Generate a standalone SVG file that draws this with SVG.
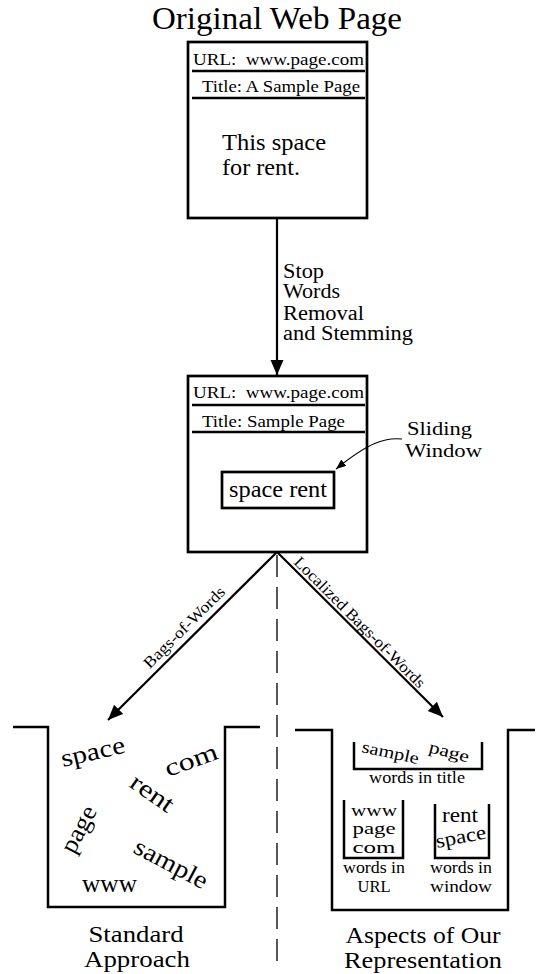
<svg xmlns="http://www.w3.org/2000/svg" width="537" height="974" viewBox="0 0 537 974">
<style>
text{font-family:"Liberation Serif","Times New Roman",serif;fill:#000;white-space:pre}
.box{fill:#fff;stroke:#000;stroke-width:2.7}
.ln{fill:none;stroke:#000;stroke-width:2.7}
.arr{fill:none;stroke:#000;stroke-width:2.2}
.thin{fill:none;stroke:#000;stroke-width:1.1}
.bk{fill:none;stroke:#000;stroke-width:2.5}
.dash{fill:none;stroke:#000;stroke-width:1.3;stroke-dasharray:22 10}
.s15{font-size:17px}
.s21{font-size:23px}
.s19{font-size:20px}
.s18{font-size:19px}
.s23{font-size:25px}
.s26{font-size:24px}
.s16{font-size:16px}
.s17{font-size:17px}
</style>
<defs>
<marker id="ah" markerUnits="userSpaceOnUse" markerWidth="16" markerHeight="14" refX="15" refY="6.5" orient="auto">
<path d="M0,0 L15,6.5 L0,13 Z" fill="#000"/>
</marker>
<marker id="ahs" markerUnits="userSpaceOnUse" markerWidth="11" markerHeight="9" refX="10" refY="4" orient="auto">
<path d="M0,0 L10,4 L0,8 Z" fill="#000"/>
</marker>
</defs>

<text x="152" y="29" font-size="31" textLength="250" lengthAdjust="spacingAndGlyphs">Original Web Page</text>

<g id="original-page">
<rect class="box" x="188" y="42" width="179" height="176"/>
<line class="ln" x1="192" y1="71" x2="365" y2="71"/>
<line class="ln" x1="192" y1="98" x2="365" y2="98"/>
<text class="s15" x="193" y="65" textLength="171" lengthAdjust="spacingAndGlyphs">URL:  www.page.com</text>
<text class="s15" x="202" y="92" textLength="158" lengthAdjust="spacingAndGlyphs">Title: A Sample Page</text>
<text class="s21" x="222" y="150" textLength="104" lengthAdjust="spacingAndGlyphs">This space</text>
<text class="s21" x="222" y="175" textLength="78" lengthAdjust="spacingAndGlyphs">for rent.</text>
</g>

<g id="processed-page">
<rect class="box" x="188" y="376" width="179" height="176"/>
<line class="ln" x1="192" y1="405" x2="365" y2="405"/>
<line class="ln" x1="192" y1="432" x2="365" y2="432"/>
<text class="s15" x="193" y="398" textLength="171" lengthAdjust="spacingAndGlyphs">URL:  www.page.com</text>
<text class="s15" x="202" y="427" textLength="143" lengthAdjust="spacingAndGlyphs">Title: Sample Page</text>
</g>

<g id="sliding-window">
<rect class="box" x="222" y="472" width="112" height="36"/>
<text class="s21" x="229" y="497" textLength="98" lengthAdjust="spacingAndGlyphs">space rent</text>
</g>

<g id="sliding-window-label">
<text class="s18" x="407" y="435" textLength="65" lengthAdjust="spacingAndGlyphs">Sliding</text>
<text class="s18" x="405" y="457" textLength="77" lengthAdjust="spacingAndGlyphs">Window</text>
</g>

<g id="standard-bag">
<path class="bk" d="M13,727 H48 V907 H225 V727 H260"/>
<text class="s23" transform="translate(63,767) rotate(-13)" textLength="65" lengthAdjust="spacingAndGlyphs">space</text>
<text class="s23" transform="translate(168,777) rotate(-20)" textLength="55" lengthAdjust="spacingAndGlyphs">com</text>
<text class="s23" transform="translate(128,786) rotate(35)" textLength="48" lengthAdjust="spacingAndGlyphs">rent</text>
<text class="s23" transform="translate(74,855) rotate(-62)" textLength="50" lengthAdjust="spacingAndGlyphs">page</text>
<text class="s23" transform="translate(132,852) rotate(28)" textLength="80" lengthAdjust="spacingAndGlyphs">sample</text>
<text class="s23" x="82" y="892" textLength="55" lengthAdjust="spacingAndGlyphs">www</text>
</g>

<g id="standard-label">
<text class="s26" x="136" y="942" text-anchor="middle" textLength="95" lengthAdjust="spacingAndGlyphs">Standard</text>
<text class="s26" x="137" y="967" text-anchor="middle" textLength="106" lengthAdjust="spacingAndGlyphs">Approach</text>
</g>

<g id="localized-bag">
<path class="bk" d="M295,730 H332 V910 H508 V730 H535"/>
</g>

<g id="title-bag">
<path class="bk" d="M354,742 V769 H482 V742"/>
<text class="s17" transform="translate(361,752) rotate(12)" textLength="58" lengthAdjust="spacingAndGlyphs">sample</text>
<text class="s17" transform="translate(428,752) rotate(15)" textLength="41" lengthAdjust="spacingAndGlyphs">page</text>
<text class="s16" x="417" y="783" text-anchor="middle" textLength="96" lengthAdjust="spacingAndGlyphs">words in title</text>
</g>

<g id="url-bag">
<path class="bk" d="M344,800 V858 H403 V800"/>
<text class="s17" x="374" y="816" text-anchor="middle" textLength="46" lengthAdjust="spacingAndGlyphs">www</text>
<text class="s17" x="374" y="834" text-anchor="middle" textLength="43" lengthAdjust="spacingAndGlyphs">page</text>
<text class="s17" x="374" y="853" text-anchor="middle" textLength="43" lengthAdjust="spacingAndGlyphs">com</text>
<text class="s16" x="374" y="873" text-anchor="middle" textLength="62" lengthAdjust="spacingAndGlyphs">words in</text>
<text class="s16" x="374" y="892" text-anchor="middle" textLength="33" lengthAdjust="spacingAndGlyphs">URL</text>
</g>

<g id="window-bag">
<path class="bk" d="M435,804 V858 H489 V804"/>
<text class="s19" x="460" y="822" text-anchor="middle" textLength="36" lengthAdjust="spacingAndGlyphs">rent</text>
<text class="s19" transform="translate(437,848) rotate(-11)" textLength="51" lengthAdjust="spacingAndGlyphs">space</text>
<text class="s16" x="461" y="873" text-anchor="middle" textLength="62" lengthAdjust="spacingAndGlyphs">words in</text>
<text class="s16" x="461" y="892" text-anchor="middle" textLength="62" lengthAdjust="spacingAndGlyphs">window</text>
</g>

<g id="localized-label">
<text class="s26" x="423" y="943" text-anchor="middle" textLength="155" lengthAdjust="spacingAndGlyphs">Aspects of Our</text>
<text class="s26" x="423" y="968" text-anchor="middle" textLength="158" lengthAdjust="spacingAndGlyphs">Representation</text>
</g>

<g id="connectors">
<line class="arr" x1="277" y1="218" x2="277" y2="375" marker-end="url(#ah)"/>
<g id="stop-label">
<text class="s19" x="283" y="278" textLength="41" lengthAdjust="spacingAndGlyphs">Stop</text>
<text class="s19" x="283" y="298" textLength="57" lengthAdjust="spacingAndGlyphs">Words</text>
<text class="s19" x="283" y="320" textLength="81" lengthAdjust="spacingAndGlyphs">Removal</text>
<text class="s19" x="283" y="340" textLength="130" lengthAdjust="spacingAndGlyphs">and Stemming</text>
</g>
<path class="thin" d="M402,439 C385,437 368,443 336,469" marker-end="url(#ahs)"/>
<line class="arr" x1="277" y1="552" x2="108" y2="720" marker-end="url(#ah)"/>
<line class="arr" x1="277" y1="552" x2="443" y2="717" marker-end="url(#ah)"/>
<text font-size="16" transform="translate(188,631) rotate(-45)" text-anchor="middle" textLength="108" lengthAdjust="spacingAndGlyphs">Bags-of-Words</text>
<text font-size="16" transform="translate(356,626) rotate(45)" text-anchor="middle" textLength="178" lengthAdjust="spacingAndGlyphs">Localized Bags-of-Words</text>
<line class="dash" x1="277" y1="555" x2="277" y2="962"/>
</g>
</svg>
